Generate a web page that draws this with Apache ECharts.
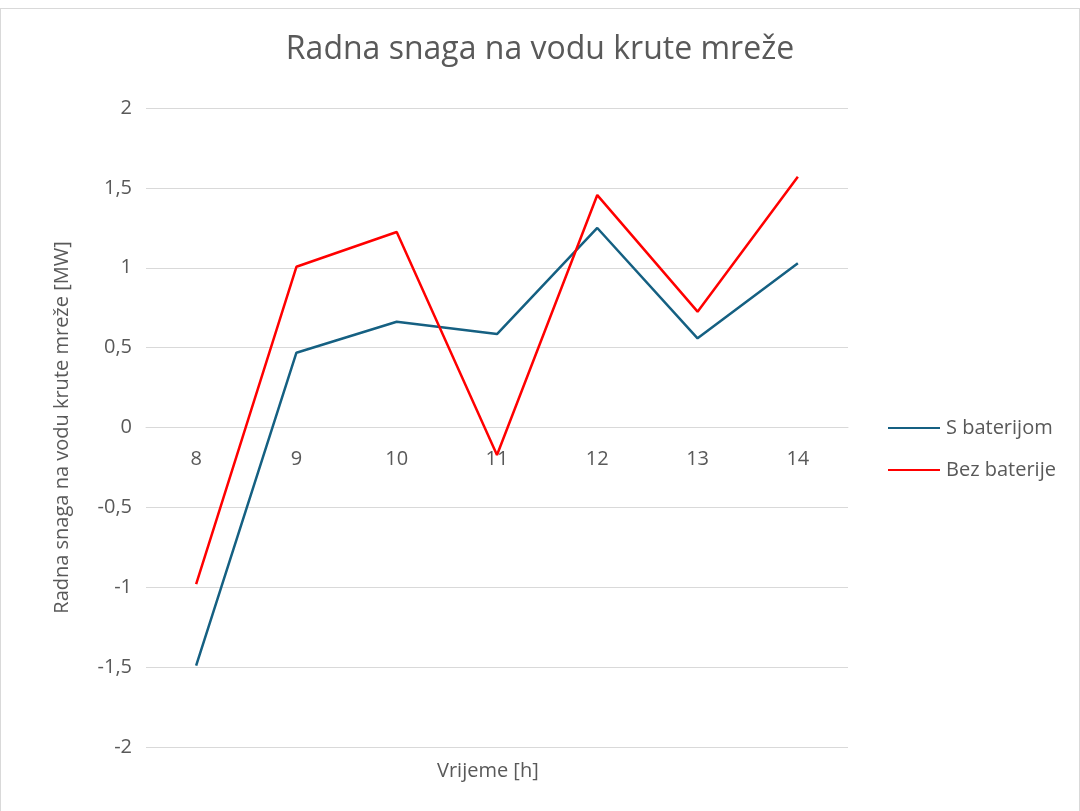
<!DOCTYPE html>
<html>
<head>
<meta charset="utf-8">
<script src="https://cdn.jsdelivr.net/npm/echarts@6/dist/echarts.min.js"></script>
<style>
  html, body { margin: 0; padding: 0; background: #fff; }
  #chart { width: 1078px; height: 803px; margin-top: 8px; border: 1px solid #d9d9d9; border-bottom: none; }
</style>
</head>
<body>
<div id="chart"></div>
<script>
// Hours of the day
const hours = ['8', '9', '10', '11', '12', '13', '14'];
// Active power towards the stiff grid [MW]
const withBattery = [-1.49, 0.468, 0.662, 0.585, 1.249, 0.558, 1.028];
const withoutBattery = [-0.98, 1.006, 1.224, -0.172, 1.455, 0.725, 1.57];
const seriesNames = ['S baterijom', 'Bez baterije'];

const FONT = 'Open Sans';
const TEXT = '#595959';

const GRID = { left: 145, right: 231, top: 99, bottom: 65 };
const Y_MIN = -2, Y_MAX = 2;

const el = document.getElementById('chart');
const plotH = el.clientHeight - GRID.top - GRID.bottom;
// Category axis sits on the zero line of the value axis
const zeroOffset = -plotH * (0 - Y_MIN) / (Y_MAX - Y_MIN);

const chart = echarts.init(el);
chart.setOption({
  animation: false,
  textStyle: { fontFamily: FONT },
  title: {
    text: 'Radna snaga na vodu krute mreže',
    left: 'center',
    top: 20,
    textStyle: { fontFamily: FONT, fontSize: 32, fontWeight: 'normal', color: TEXT }
  },
  legend: {
    orient: 'vertical',
    left: 882,
    top: 404,
    itemWidth: 52,
    itemHeight: 20,
    itemGap: 22,
    icon: 'path://M0,9 L52,9 L52,11 L0,11 Z',
    textStyle: { fontFamily: FONT, fontSize: 20, color: TEXT, padding: [0, 0, 0, 1] },
    data: seriesNames
  },
  graphic: [{
    type: 'text',
    left: (GRID.left + (1078 - GRID.right)) / 2 - 60,
    top: 752,
    style: { text: 'Vrijeme [h]', font: '20px "Open Sans"', fill: TEXT, width: 120, align: 'center' },
  }],
  grid: GRID,
  xAxis: {
    type: 'category',
    data: hours,
    boundaryGap: true,
    offset: zeroOffset,
    axisLine: { lineStyle: { color: '#d9d9d9', width: 1 } },
    axisTick: { show: false },
    axisLabel: { fontFamily: FONT, fontSize: 20, color: TEXT, margin: 22 }
  },
  yAxis: {
    type: 'value',
    min: Y_MIN,
    max: Y_MAX,
    interval: 0.5,
    name: 'Radna snaga na vodu krute mreže [MW]',
    nameLocation: 'middle',
    nameGap: 74,
    nameRotate: 90,
    nameTextStyle: { fontFamily: FONT, fontSize: 20, color: TEXT },
    axisLine: { show: false },
    axisTick: { show: false },
    splitLine: { lineStyle: { color: '#d9d9d9', width: 1 } },
    axisLabel: {
      fontFamily: FONT, fontSize: 20, color: TEXT, margin: 14,
      formatter: v => String(v).replace('.', ',')
    }
  },
  series: [
    {
      name: seriesNames[0],
      type: 'line',
      data: withBattery,
      symbol: 'none',
      lineStyle: { color: '#156082', width: 2.5 },
      itemStyle: { color: '#156082' }
    },
    {
      name: seriesNames[1],
      type: 'line',
      data: withoutBattery,
      symbol: 'none',
      lineStyle: { color: '#ff0000', width: 2.5 },
      itemStyle: { color: '#ff0000' }
    }
  ]
});
</script>
</body>
</html>
